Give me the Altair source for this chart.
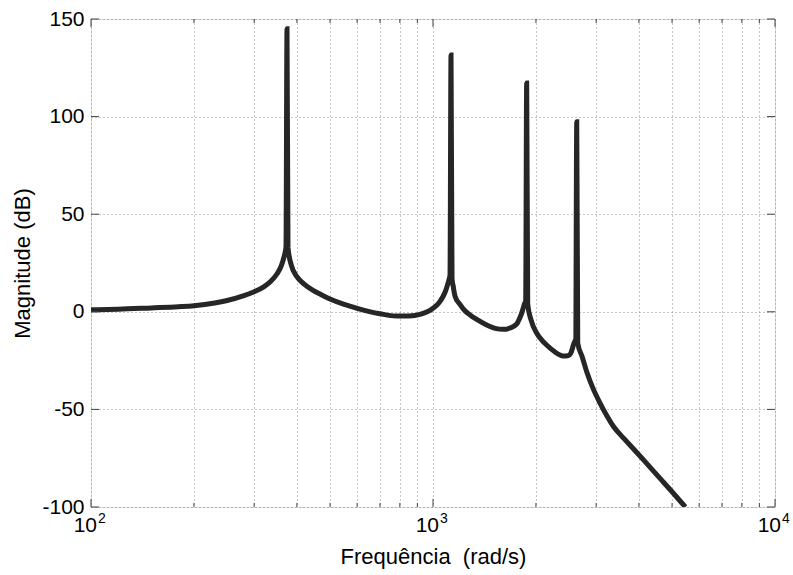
import altair as alt
import pandas as pd

# ---- data ----
freq = [100, 120, 150, 180, 200, 230, 250, 280, 300, 320, 335, 350, 360, 366, 370, 371.7,
        374.2,
        376.7, 385, 400, 420, 446, 470, 500, 550, 600, 700, 780, 850, 916, 1000, 1040, 1069,
        1090, 1107, 1116, 1121.3,
        1129,
        1136.7, 1146, 1160, 1199, 1240, 1283, 1350, 1436, 1520, 1606, 1680, 1758, 1790, 1816,
        1840, 1855, 1866,
        1879,
        1892, 1935, 2011, 2080, 2149, 2250, 2404, 2480, 2529, 2584, 2600, 2614,
        2632,
        2650, 2730, 2818, 2950, 3084, 3230, 3375, 3620, 3907, 4200, 4571, 5000, 5468]
mag = [1.0, 1.3, 2.0, 2.6, 3.1, 4.5, 5.8, 8.3, 10.3, 12.8, 15.5, 19.5, 23.5, 27.5, 31.0, 33.5,
       145.0,
       33.0, 24.0, 18.0, 14.2, 11.0, 8.9, 6.6, 3.8, 1.8, -1.0, -2.2, -2.1, -1.3, 1.8, 4.5, 7.7,
       11.0, 14.8, 17.0, 18.9,
       131.6,
       17.0, 13.0, 8.0, 3.8, 0.5, -1.6, -4.2, -6.8, -8.5, -9.0, -8.3, -6.2, -3.5, -0.8,
       2.5, 4.5, 5.0,
       117.2,
       4.0, -4.2, -11.0, -14.5, -17.0, -20.0, -22.6, -22.5, -21.2, -16.1, -15.0, -14.4,
       97.4,
       -16.0, -23.0, -31.0, -40.0, -47.0, -53.5, -58.9, -65.0, -71.3, -77.4, -84.6, -92.2, -100.0]

y_ticks = [-100, -50, 0, 50, 100, 150]
x_major = [100, 1000, 10000]
x_minor = [200, 300, 400, 500, 600, 700, 800, 900,
           2000, 3000, 4000, 5000, 6000, 7000, 8000, 9000]
exponents = ["2", "3", "4"]

W, H = 684, 488
FONT = "Liberation Sans"
LINE = "#262626"
FRAME = "#404040"

df = pd.DataFrame({"f": freq, "db": mag, "i": list(range(len(freq)))})
df_y = pd.DataFrame({"v": y_ticks})
df_xmaj = pd.DataFrame({"f": x_major, "e": exponents})
df_xmin = pd.DataFrame({"f": x_minor})

xs = alt.Scale(type="log", domain=[100, 10000], nice=False)
ys = alt.Scale(domain=[-100, 150], nice=False, zero=False)

x_axis = alt.Axis(values=x_minor + x_major, labels=False, ticks=False, domain=False,
                  grid=True, gridColor="#8c8c8c", gridDash=[1, 3], gridWidth=1,
                  title="Frequência\u00a0 (rad/s)", titleFont=FONT, titleFontSize=22,
                  titleFontWeight="normal", titleColor="black", titleX=W / 2, titleY=56,
                  titleBaseline="alphabetic", titleAlign="center")
y_axis = alt.Axis(values=y_ticks, ticks=False, domain=False, grid=True,
                  gridColor="#8c8c8c", gridDash=[1, 3], gridWidth=1,
                  labelExpr="datum.value + ''",
                  labelFont=FONT, labelFontSize=21, labelColor="black", labelPadding=7,
                  labelBound=False, labelOverlap=False,
                  title="Magnitude (dB)", titleFont=FONT, titleFontSize=22,
                  titleFontWeight="normal", titleColor="black", titleX=-62, titleY=H / 2,
                  titleAngle=270, titleBaseline="alphabetic", titleAlign="center")

line = alt.Chart(df).mark_line(color=LINE, strokeWidth=5, clip=True, interpolate="monotone",
                               strokeJoin="miter", strokeCap="butt").encode(
    x=alt.X("f:Q", scale=xs, axis=x_axis),
    y=alt.Y("db:Q", scale=ys, axis=y_axis),
    order="i:Q",
)

# inward tick marks (MATLAB style)
yt_left = alt.Chart(df_y).mark_rule(color=FRAME, strokeWidth=1).encode(
    y=alt.Y("v:Q", scale=ys, axis=None), x=alt.value(0), x2=alt.value(8))
yt_right = alt.Chart(df_y).mark_rule(color=FRAME, strokeWidth=1).encode(
    y=alt.Y("v:Q", scale=ys, axis=None), x=alt.value(W - 8), x2=alt.value(W))
xmin_b = alt.Chart(df_xmin).mark_rule(color=FRAME, strokeWidth=1).encode(
    x=alt.X("f:Q", scale=xs, axis=None), y=alt.value(H), y2=alt.value(H - 4))
xmin_t = alt.Chart(df_xmin).mark_rule(color=FRAME, strokeWidth=1).encode(
    x=alt.X("f:Q", scale=xs, axis=None), y=alt.value(0), y2=alt.value(4))
xmaj_b = alt.Chart(df_xmaj).mark_rule(color=FRAME, strokeWidth=1).encode(
    x=alt.X("f:Q", scale=xs, axis=None), y=alt.value(H), y2=alt.value(H - 8))
xmaj_t = alt.Chart(df_xmaj).mark_rule(color=FRAME, strokeWidth=1).encode(
    x=alt.X("f:Q", scale=xs, axis=None), y=alt.value(0), y2=alt.value(8))

# x tick labels as 10^n
base10 = alt.Chart(df_xmaj).mark_text(align="right", baseline="alphabetic", dx=6,
                                      font=FONT, fontSize=21, color="black").encode(
    x=alt.X("f:Q", scale=xs, axis=None), y=alt.value(H + 25), text=alt.value("10"))
expo = alt.Chart(df_xmaj).mark_text(align="left", baseline="alphabetic", dx=7,
                                    font=FONT, fontSize=14, color="black").encode(
    x=alt.X("f:Q", scale=xs, axis=None), y=alt.value(H + 16), text="e:N")

chart = alt.layer(line, yt_left, yt_right, xmin_b, xmin_t, xmaj_b, xmaj_t, base10, expo).resolve_axis(
    x="independent", y="independent"
).properties(
    width=W, height=H,
    autosize=alt.AutoSizeParams(type="none"),
    padding={"left": 91, "top": 19, "right": 18, "bottom": 68},
).configure_view(stroke=FRAME, strokeWidth=1).configure(background="white")

chart.save("out.html", embed_options={"renderer": "svg", "actions": False})
